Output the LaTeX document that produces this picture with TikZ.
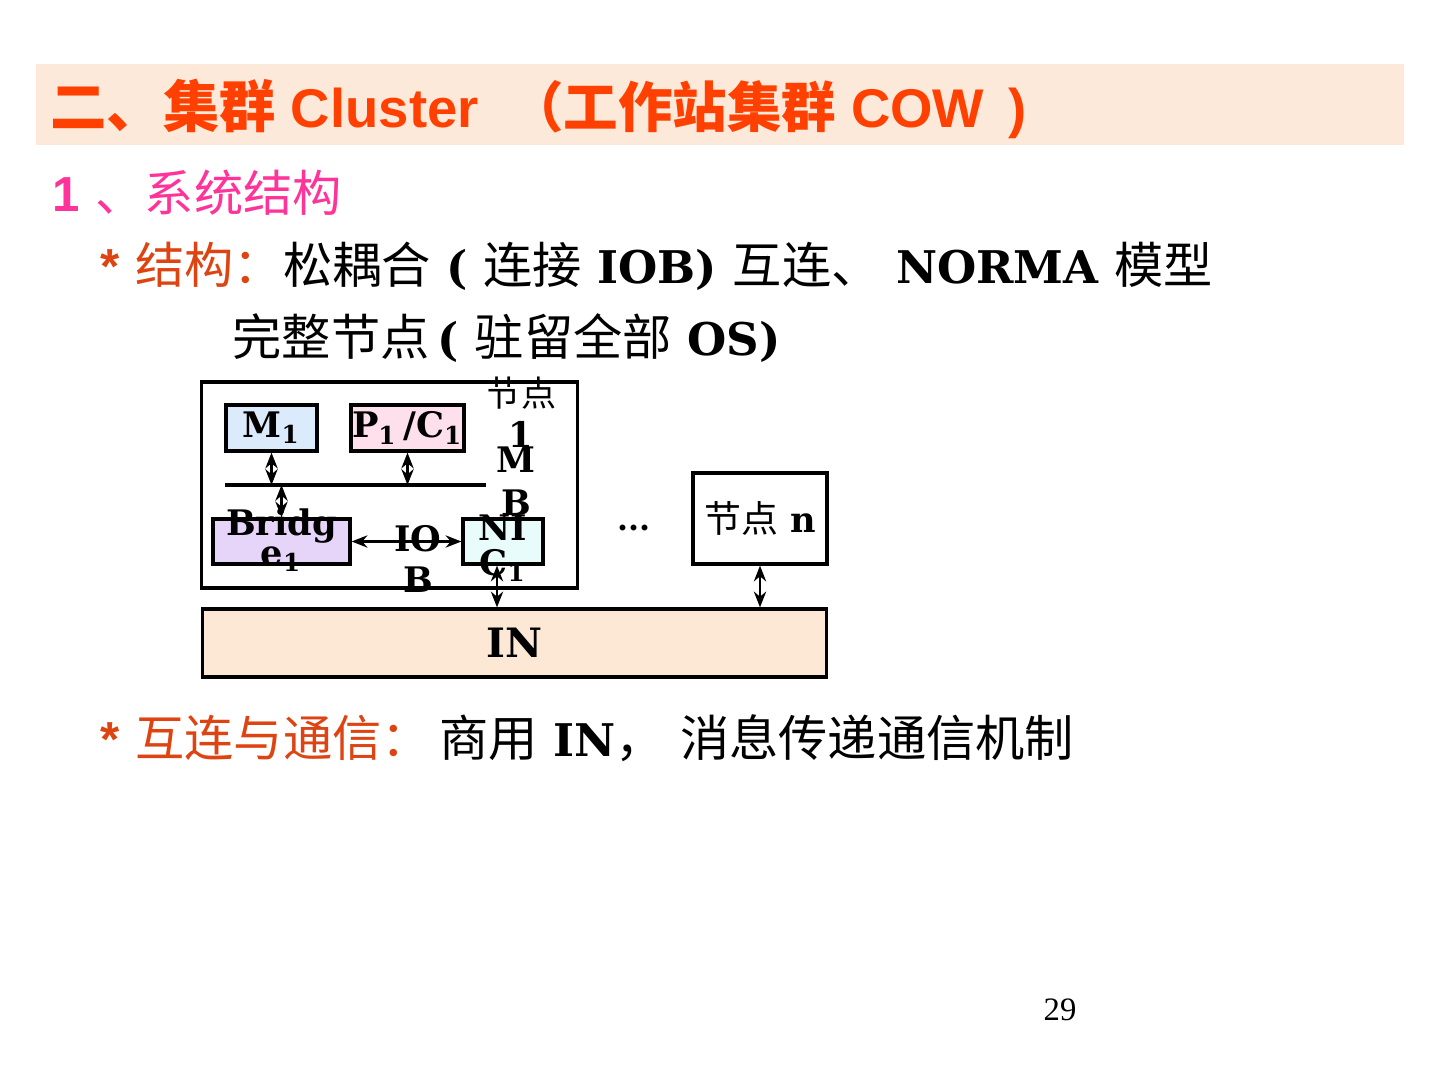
\documentclass[tikz,border=0pt]{standalone}
\usepackage{fontspec}
\setmainfont{DejaVu Serif}
\newfontfamily\cjk{Noto Sans CJK SC}
\newfontfamily\hdsans{Liberation Sans}
\newfontfamily\tms{Liberation Serif}
\usetikzlibrary{arrows.meta}
\definecolor{hdbg}{RGB}{253,233,217}
\definecolor{hdred}{RGB}{255,64,0}
\definecolor{pk}{RGB}{255,51,153}
\definecolor{orred}{RGB}{221,68,17}
\definecolor{mblue}{RGB}{220,235,252}
\definecolor{ppink}{RGB}{253,224,236}
\definecolor{brlav}{RGB}{230,213,248}
\definecolor{niccy}{RGB}{232,252,252}
\definecolor{inbg}{RGB}{253,232,214}
\newcommand{\zh}[1]{{\cjk #1}}
\newcommand{\lb}[1]{{\rmfamily\bfseries\fontsize{12.8}{16}\selectfont #1}}

\begin{document}
\begin{tikzpicture}[x=0.01cm, y=-0.01cm, >={Stealth[length=4.5pt,width=3.5pt]},
  box/.style={draw, line width=0.9pt, inner sep=0pt, font=\fontsize{10}{11}\selectfont\bfseries},
  txt/.style={inner sep=0pt, align=center},
  line/.style={anchor=base west, inner sep=0pt, font=\fontsize{14}{16}\selectfont},
  link/.style={<->, line width=0.6pt}]
\useasboundingbox (0,0) rectangle (1440,1080);

% title band
\fill[hdbg] (36,64) rectangle (1404,145);
\node[line, text=hdred, font=\fontsize{16}{16}\selectfont\bfseries] (title) at (50,128)
  {\zh{二、集群}\hdsans\fontsize{15.5}{16}\selectfont\ Cluster \ \zh{（工作站集群}\ COW \,)};

% text lines
\node[line, text=pk] (sec) at (52,212) {{\hdsans\bfseries 1} \zh{、系统结构}};
\node[line] (l1) at (100,284) {\textcolor{orred}{{\hdsans\bfseries *} \zh{结构：}}\zh{松耦合} \lb{(} \zh{连接} \lb{IOB)} \zh{互连、} \lb{NORMA} \zh{模型}};
\node[line] (l2) at (232,356) {\zh{完整节点}\,\lb{(} \zh{驻留全部} \lb{OS)}};
\node[line] (l3) at (100,757) {\textcolor{orred}{{\hdsans\bfseries *} \zh{互连与通信：}}\,\zh{商用} \lb{IN}\zh{，} \zh{消息传递通信机制}};

% node 1
\node[box, minimum width=37.5mm, minimum height=20.6mm] (node1) at (389.5,485) {};
\node[box, fill=mblue, minimum width=9.1mm, minimum height=4.6mm] (m1) at (271.5,428) {M\textsubscript{1}};
\node[box, fill=ppink, minimum width=11.3mm, minimum height=4.6mm] (p1) at (407.5,428) {P\textsubscript{1}\,/C\textsubscript{1}};
\coordinate (mbL) at (225,485);
\coordinate (mbR) at (486,485);
\draw[line width=1.2pt] (mbL) -- (mbR);
\node[box, fill=brlav, minimum width=13.7mm, minimum height=4.5mm] (br) at (281.5,541.5) {};
\node[box, fill=niccy, minimum width=8mm, minimum height=4.5mm] (nic) at (503,541.5) {};
\draw[link] (m1.south) -- (m1.south |- mbL);
\draw[link] (p1.south) -- (p1.south |- mbL);
\draw[link] (br.north) -- (br.north |- mbL);
\draw[link] (br.east) -- (nic.west);

% labels that run over the boxes
\node[txt, font=\fontsize{10}{11.7}\selectfont\bfseries] (n1lbl) at (521,412) {\zh{\mdseries 节点}\\1};
\node[txt, font=\fontsize{10}{12.2}\selectfont\bfseries] (mblbl) at (516,481) {M\\B};
\node[txt, font=\fontsize{10}{8.5}\selectfont\bfseries] (brlbl) at (281.5,540) {Bridg\\e\textsubscript{1}};
\node[txt, font=\fontsize{10}{11.7}\selectfont\bfseries] (ioblbl) at (418,559) {IO\\B};
\node[txt, font=\fontsize{10}{10}\selectfont\bfseries] (niclbl) at (503,548) {NI\\C\textsubscript{1}};

% node n and IN
\node[box, minimum width=13.4mm, minimum height=9.1mm] (nn) at (760,518.5) {\zh{\mdseries\fontsize{10.5}{11}\selectfont 节点} n};
\node[box, fill=inbg, minimum width=62.4mm, minimum height=6.8mm, font=\fontsize{11.5}{12}\selectfont\bfseries] (in) at (514.5,643) {IN};
\node[font=\fontsize{9}{10}\selectfont\bfseries] (dots) at (634,528) {...};
\draw[link] ([xshift=-0.6mm]nic.south) -- ([xshift=-0.6mm]nic.south |- in.north);
\draw[link] (nn.south) -- (nn.south |- in.north);

\node[font=\tms\fontsize{9.3}{10}\selectfont] (pg) at (1060,1010) {29};
\end{tikzpicture}
\end{document}
